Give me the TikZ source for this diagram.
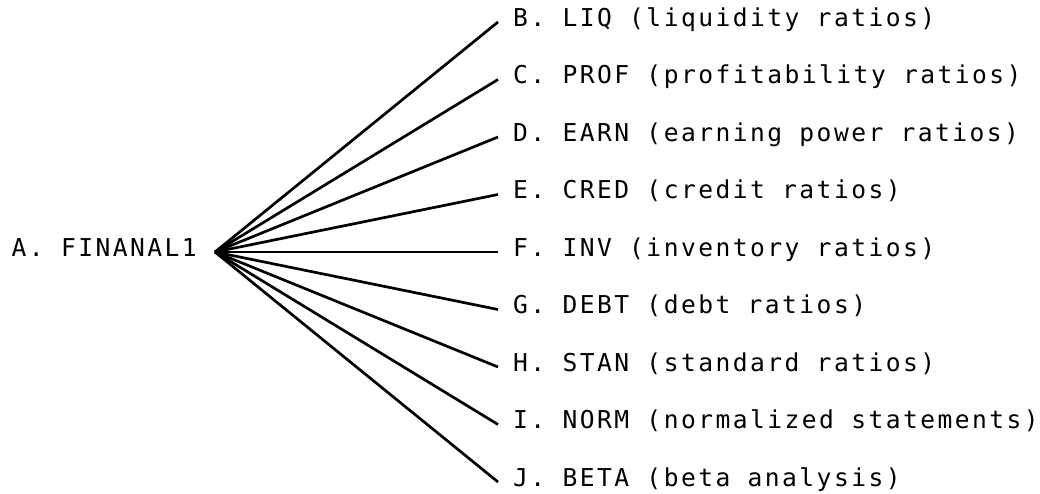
\documentclass[tikz,border=0pt]{standalone}
\usepackage{fontspec}
\newfontfamily\printfont{DejaVu Sans Mono}[LetterSpace=10]

\begin{document}
\begin{tikzpicture}[
    item/.style={anchor=west, inner xsep=0.45cm, inner ysep=0pt, text height=0.73em, text depth=0pt, font=\printfont\fontsize{21pt}{25pt}\selectfont},
    root/.style={anchor=east, inner xsep=0.54cm, inner ysep=0pt, text height=0.73em, text depth=0pt, font=\printfont\fontsize{21pt}{25pt}\selectfont},
    branch/.style={line width=2.3pt}
]
    \useasboundingbox (0,0) rectangle (31.2,-14.82);

    % Wurzel
    \node[root] (finanal) at (6.45,-7.56) {A. FINANAL1};

    % Teilmodelle
    \node[item] (liq)  at (14.94,-0.66)  {B. LIQ (liquidity ratios)};
    \node[item] (prof) at (14.94,-2.385) {C. PROF (profitability ratios)};
    \node[item] (earn) at (14.94,-4.11)  {D. EARN (earning power ratios)};
    \node[item] (cred) at (14.94,-5.835) {E. CRED (credit ratios)};
    \node[item] (inv)  at (14.94,-7.56)  {F. INV (inventory ratios)};
    \node[item] (debt) at (14.94,-9.285) {G. DEBT (debt ratios)};
    \node[item] (stan) at (14.94,-11.01) {H. STAN (standard ratios)};
    \node[item] (norm) at (14.94,-12.735) {I. NORM (normalized statements)};
    \node[item] (beta) at (14.94,-14.46) {J. BETA (beta analysis)};

    % Verbindungen
    \draw[branch] (finanal.east) -- (liq.west);
    \draw[branch] (finanal.east) -- (prof.west);
    \draw[branch] (finanal.east) -- (earn.west);
    \draw[branch] (finanal.east) -- (cred.west);
    \draw[branch] (finanal.east) -- (inv.west);
    \draw[branch] (finanal.east) -- (debt.west);
    \draw[branch] (finanal.east) -- (stan.west);
    \draw[branch] (finanal.east) -- (norm.west);
    \draw[branch] (finanal.east) -- (beta.west);

\end{tikzpicture}
\end{document}
